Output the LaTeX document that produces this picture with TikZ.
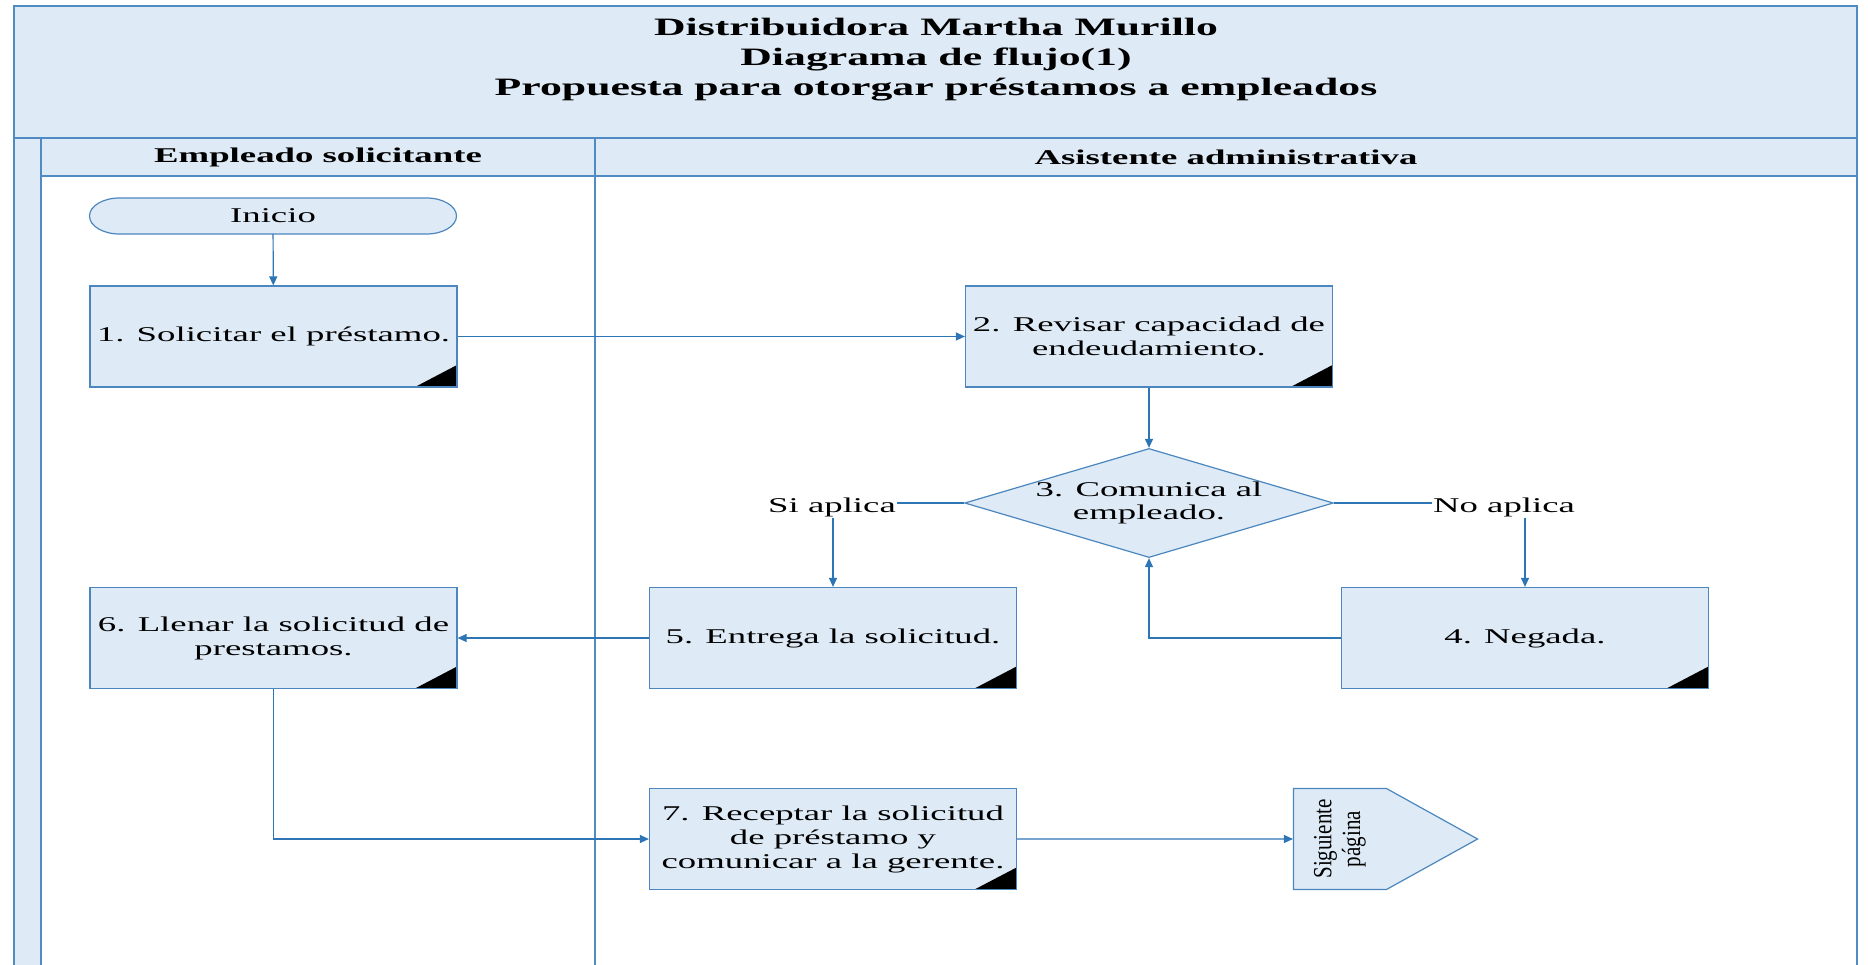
\documentclass[tikz,border=0pt]{standalone}
\usepackage{fontspec}
\setmainfont{Liberation Serif}[FakeStretch=1.75]
\newfontfamily\plainfont{Liberation Serif}
\usetikzlibrary{shapes.geometric,shapes.symbols,arrows.meta}
\definecolor{lanefill}{RGB}{222,234,246}
\definecolor{laneline}{RGB}{80,140,195}
\definecolor{boxline}{RGB}{75,135,190}
\definecolor{flowblue}{RGB}{46,117,182}
\tikzstyle{process} = [rectangle, draw=boxline, fill=lanefill, line width=1.2pt,
                       minimum width=367pt, minimum height=101pt, inner sep=2pt,
                       align=center, font=\fontsize{21}{24}\selectfont,
                       path picture={\fill[black] (path picture bounding box.south east)
                           -- ++(-42pt,0pt) -- ++(42pt,22pt) -- cycle;}]
\tikzstyle{decision} = [diamond, aspect=3.38, draw=boxline, fill=lanefill,
                        line width=1.2pt, minimum width=365pt, minimum height=108pt,
                        inner sep=0pt, align=center, font=\fontsize{21}{23}\selectfont]
\tikzstyle{offpage} = [signal, signal to=east, signal pointer angle=58,
                       draw=boxline, fill=lanefill, line width=1.2pt,
                       minimum width=184pt, minimum height=101pt, inner sep=0pt,
                       font=\plainfont\fontsize{21}{23}\selectfont]
\tikzstyle{branch} = [font=\fontsize{21}{23}\selectfont, inner sep=1pt, anchor=base]
\tikzstyle{lane} = [laneline, line width=2pt]
\tikzstyle{link} = [flowblue, line width=1.2pt]
\tikzstyle{arrow} = [link, -{Triangle[length=9pt,width=8pt]}]

\begin{document}
\begin{tikzpicture}[x=1pt, y=-1pt]
    \useasboundingbox (0,0) rectangle (1868,964);

    % Pool: title band, lane headers and side strip
    \fill[lanefill] (14,6) rectangle (1857,176);
    \fill[lanefill] (14,176) rectangle (41,970);
    \draw[lane] (14,6) rectangle (1857,970);
    \draw[lane] (14,138) -- (1857,138);
    \draw[lane] (41,176) -- (1857,176);
    \draw[lane] (41,138) -- (41,970);
    \draw[lane] (595,138) -- (595,970);

    \node[font=\fontsize{25}{30}\selectfont\bfseries, align=center] (title) at (936,60)
        {Distribuidora Martha Murillo\\Diagrama de flujo(1)\\Propuesta para otorgar préstamos a empleados};
    \node[font=\fontsize{21}{23}\selectfont\bfseries] (lane1) at (318,157) {Empleado solicitante};
    \node[font=\fontsize{21}{23}\selectfont\bfseries] (lane2) at (1226,157) {Asistente administrativa};

    % Start terminal
    \filldraw[draw=boxline, fill=lanefill, line width=1.2pt]
        (119.5,198) -- (426.5,198) arc[start angle=-90, end angle=90, x radius=30, y radius=18]
        -- (119.5,234) arc[start angle=90, end angle=270, x radius=30, y radius=18] -- cycle;
    \node[minimum width=367pt, minimum height=36pt, font=\fontsize{21}{23}\selectfont] (inicio) at (273,216) {Inicio};

    % Steps
    \node[process] (b1) at (273.5,336.5) {1. Solicitar el préstamo.};
    \node[process] (b2) at (1149,336.5) {2. Revisar capacidad de\\endeudamiento.};
    \node[decision] (dia) at (1149,503) {3. Comunica al\\empleado.};
    \node[process] (b4) at (1525,638) {4. Negada.};
    \node[process] (b5) at (833,638) {5. Entrega la solicitud.};
    \node[process] (b6) at (273.5,638) {6. Llenar la solicitud de\\prestamos.};
    \node[process] (b7) at (833,839) {7. Receptar la solicitud\\de préstamo y\\comunicar a la gerente.};
    \node[offpage] (sig) at (1340,839)
        {\scalebox{1.25}[1]{\rotatebox{90}{\begin{tabular}{@{}c@{}}Siguiente\\página\end{tabular}}}};

    \node[branch] (si) at (832,512) {Si aplica};
    \node[branch] (no) at (1504,512) {No aplica};

    % Flow
    \draw[arrow] (inicio) -- (b1);
    \draw[arrow] (b1) -- (b2);
    \draw[arrow] (b2) -- (dia);
    \draw[link] (dia.west) -- (dia.west -| si.east);
    \draw[arrow] (b5.north |- si.south) -- (b5.north);
    \draw[link] (dia.east) -- (dia.east -| no.west);
    \draw[arrow] (b4.north |- no.south) -- (b4.north);
    \draw[arrow] (b4.west) -| (dia.south);
    \draw[arrow] (b5) -- (b6);
    \draw[arrow] (b6.south) |- (b7.west);
    \draw[arrow] (b7) -- (sig);
\end{tikzpicture}
\end{document}
